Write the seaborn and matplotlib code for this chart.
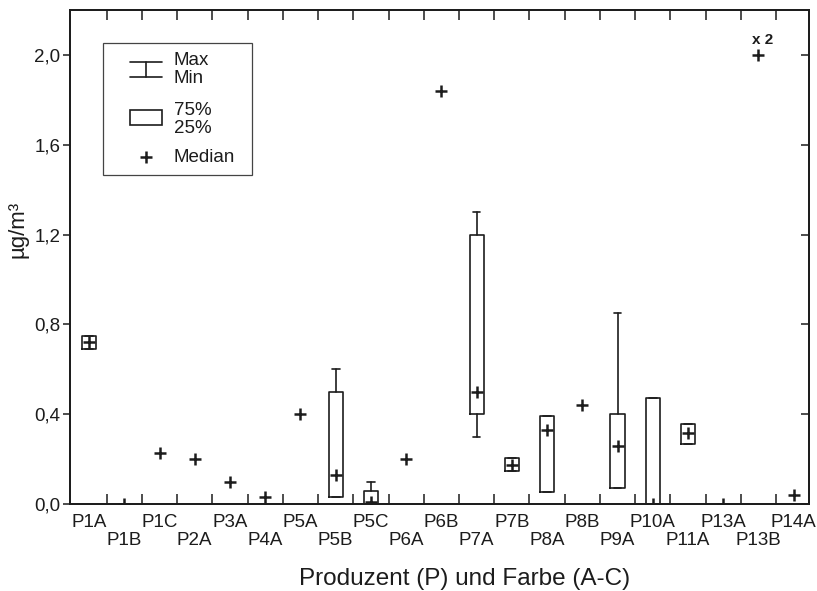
import numpy as np
import pandas as pd
import matplotlib.pyplot as plt
import seaborn as sns

kategorien = ['P1A', 'P1B', 'P1C', 'P2A', 'P3A', 'P4A', 'P5A', 'P5B', 'P5C', 'P6A', 'P6B',
              'P7A', 'P7B', 'P8A', 'P8B', 'P9A', 'P10A', 'P11A', 'P13A', 'P13B', 'P14A']
median = [0.72, 0.0, 0.227, 0.20, 0.10, 0.03, 0.40, 0.13, 0.01, 0.20, 1.84,
          0.50, 0.175, 0.33, 0.44, 0.26, 0.0, 0.315, 0.0, 2.0, 0.04]

# nur Proben mit mehreren Werten haben Box/Whisker
box_kat = ['P1A', 'P5B', 'P5C', 'P7A', 'P7B', 'P8A', 'P9A', 'P10A', 'P11A']
q25 = [0.69, 0.03, 0.0, 0.40, 0.147, 0.052, 0.07, 0.0, 0.267]
q75 = [0.75, 0.50, 0.06, 1.20, 0.203, 0.392, 0.40, 0.47, 0.356]
minimum = [0.69, 0.03, 0.0, 0.30, 0.147, 0.052, 0.07, 0.0, 0.267]
maximum = [0.75, 0.60, 0.10, 1.30, 0.203, 0.392, 0.85, 0.47, 0.356]

y_ticks = [0.0, 0.4, 0.8, 1.2, 1.6, 2.0]
y_labels = ['0,0', '0,4', '0,8', '1,2', '1,6', '2,0']

sns.set_theme(style='ticks')
plt.rcParams['font.family'] = ['Liberation Sans', 'DejaVu Sans']
farbe = '#1c1c1c'

fig = plt.figure(figsize=(8.17, 5.91), dpi=100)
ax = fig.add_axes([0.0857, 0.1472, 0.9043, 0.8358])

df = pd.DataFrame({'pos': np.arange(len(kategorien)), 'median': median})

stats = []
for k, a, b, lo, hi in zip(box_kat, q25, q75, minimum, maximum):
    m = median[kategorien.index(k)]
    stats.append({'med': m, 'q1': a, 'q3': b, 'whislo': lo, 'whishi': hi, 'fliers': []})
box_pos = [kategorien.index(k) for k in box_kat]
ax.bxp(stats, positions=box_pos, widths=0.4, capwidths=0.22, manage_ticks=False,
       showfliers=False,
       boxprops=dict(color=farbe, linewidth=1.2),
       whiskerprops=dict(color=farbe, linewidth=1.2),
       capprops=dict(color=farbe, linewidth=1.2),
       medianprops=dict(linewidth=0))

sns.scatterplot(data=df, x='pos', y='median', marker='+', s=85, color=farbe,
                linewidth=1.8, ax=ax, zorder=5, legend=False)

i13 = kategorien.index('P13B')
ax.annotate('x 2', xy=(i13, median[i13]), xytext=(3, 11), textcoords='offset points',
            ha='center', va='center', fontsize=11, fontweight='bold', color=farbe)

ax.set_xlim(-0.54, len(kategorien) - 0.57)
ax.set_ylim(0, 2.2)

ax.set_xticks(np.arange(len(kategorien)))
ax.set_xticklabels(kategorien, fontsize=13.5, color=farbe)
ax.set_xticks(np.arange(0.5, len(kategorien) - 1, 1), minor=True)
ax.tick_params(axis='x', which='major', length=0)
ax.tick_params(axis='x', which='minor', direction='in', length=7, width=1.1,
               top=True, bottom=True, color=farbe)
for i, t in enumerate(ax.xaxis.get_major_ticks()):
    t.set_pad(7 if i % 2 == 0 else 20.5)

ax.set_yticks(y_ticks)
ax.set_yticklabels(y_labels, fontsize=13.5, color=farbe)
ax.tick_params(axis='y', direction='out', length=5, width=1.1, pad=2, color=farbe)

ax2 = ax.twinx()
ax2.set_ylim(ax.get_ylim())
ax2.set_yticks(y_ticks)
ax2.tick_params(axis='y', direction='in', length=6, width=1.1, labelright=False, color=farbe)

for a in (ax, ax2):
    for s in a.spines.values():
        s.set_linewidth(1.3)
        s.set_color(farbe)

ax.set_xlabel('Produzent (P) und Farbe (A-C)', fontsize=17.5, color=farbe)
ax.xaxis.set_label_coords(0.534, -0.13)
ax.set_ylabel('µg/m³', fontsize=16, color=farbe)
ax.yaxis.set_label_coords(-0.056, 0.555)

# Legende von Hand
lw = 1.2
ax.add_patch(plt.Rectangle((0.0447, 0.666), 0.2013, 0.267, transform=ax.transAxes,
                           fill=False, edgecolor='#444444', linewidth=0.9, zorder=6))
ax.plot([0.0812, 0.1245], [0.8947, 0.8947], transform=ax.transAxes, color=farbe, lw=lw)
ax.plot([0.0812, 0.1245], [0.8638, 0.8638], transform=ax.transAxes, color=farbe, lw=lw)
ax.plot([0.1028, 0.1028], [0.8638, 0.8947], transform=ax.transAxes, color=farbe, lw=lw)
ax.add_patch(plt.Rectangle((0.0812, 0.7672), 0.0433, 0.0304, transform=ax.transAxes,
                           fill=False, edgecolor=farbe, linewidth=lw))
ax.plot([0.1028], [0.7024], transform=ax.transAxes, marker='+', markersize=8,
        markeredgewidth=1.8, color=farbe)
for txt, yy in [('Max', 0.8985), ('Min', 0.862), ('75%', 0.797), ('25%', 0.761), ('Median', 0.7024)]:
    ax.text(0.1407, yy, txt, transform=ax.transAxes, fontsize=13.5, va='center', ha='left',
            color=farbe, linespacing=1.0)

plt.savefig('out.png', dpi=100)
